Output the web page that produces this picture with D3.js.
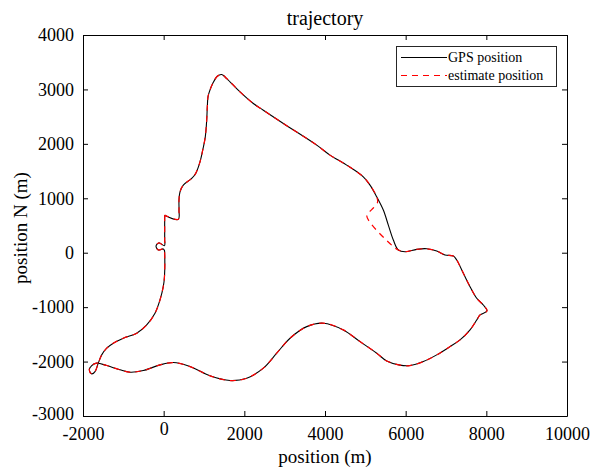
<!DOCTYPE html>
<html>
<head>
<meta charset="utf-8">
<script src="https://cdn.jsdelivr.net/npm/d3@7"></script>
<style>
  body { margin: 0; background: #fff; }
  svg text { font-family: "Liberation Serif", "Times New Roman", serif; fill: #000; }
</style>
</head>
<body>
<svg id="chart" width="602" height="469"></svg>
<script>
// GPS track (m)
var gpsX = [25, 25, 25, 20, -120, -190, -130, -10, 20, 25, 20, -10, -91, -215, -421, -669, -1001, -1249, -1412, -1536,
  -1621, -1702, -1784, -1844, -1784, -1660, -1412, -1083, -835, -505, -91, 239, 653, 1149, 1645, 2059, 2471, 2803,
  3133, 3547, 3958, 4454, 4868, 5282, 5530, 5860, 6108, 6438, 6770, 7100, 7348, 7596, 7762, 7844, 8017, 7925, 7762,
  7596, 7430, 7266, 7182, 6976, 6770, 6522, 6274, 5984, 5818, 5694, 5570, 5446, 5282, 5116, 4950, 4538, 4124, 3795,
  2967, 2471, 2223, 1893, 1563, 1439, 1330, 1216, 1132, 1099, 1082, 1067, 1032, 968, 901, 794, 695, 487, 405, 380,
  380, 363, 25];
var gpsY = [690, 480, 240, 130, 180, 120, 50, 70, 40, -10, -440, -624, -868, -1112, -1327, -1479, -1571, -1662, -1754, -1877,
  -2029, -2184, -2226, -2152, -2073, -2029, -2073, -2152, -2195, -2165, -2061, -2018, -2092, -2262, -2349, -2305, -2121, -1846,
  -1571, -1358, -1295, -1418, -1633, -1846, -1990, -2066, -2073, -2000, -1877, -1725, -1602, -1418, -1235, -1143, -1070, -960, -837,
  -624, -378, -134, -61, -42, 31, 73, 62, 18, 50, 233, 508, 784, 1028, 1242, 1395, 1609, 1793, 1976,
  2374, 2618, 2741, 2954, 3200, 3273, 3242, 3108, 2954, 2862, 2679, 2435, 2128, 1884, 1670, 1457, 1365, 1242, 1119, 967,
  784, 613, 690];

// estimated track, cuts the corner near (5000, 700)
var estX = [25, 25, 25, 20, -120, -190, -130, -10, 20, 25, 20, -10, -91, -215, -421, -669, -1001, -1249, -1412, -1536,
  -1621, -1702, -1784, -1844, -1784, -1660, -1412, -1083, -835, -505, -91, 239, 653, 1149, 1645, 2059, 2471, 2803,
  3133, 3547, 3958, 4454, 4868, 5282, 5530, 5860, 6108, 6438, 6770, 7100, 7348, 7596, 7762, 7844, 8017, 7925, 7762,
  7596, 7430, 7266, 7182, 6976, 6770, 6522, 6274, 5984, 5818, 5669, 5035, 5158, 5300, 5282, 5116, 4950, 4538, 4124, 3795,
  2967, 2471, 2223, 1893, 1563, 1439, 1330, 1216, 1132, 1099, 1082, 1067, 1032, 968, 901, 794, 695, 487, 405, 380,
  380, 363, 25];
var estY = [690, 480, 240, 130, 180, 120, 50, 70, 40, -10, -440, -624, -868, -1112, -1327, -1479, -1571, -1662, -1754, -1877,
  -2029, -2184, -2226, -2152, -2073, -2029, -2073, -2152, -2195, -2165, -2061, -2018, -2092, -2262, -2349, -2305, -2121, -1846,
  -1571, -1358, -1295, -1418, -1633, -1846, -1990, -2066, -2073, -2000, -1877, -1725, -1602, -1418, -1235, -1143, -1070, -960, -837,
  -624, -378, -134, -61, -42, 31, 73, 62, 18, 50, 128, 679, 790, 920, 1028, 1242, 1395, 1609, 1793, 1976,
  2374, 2618, 2741, 2954, 3200, 3273, 3242, 3108, 2954, 2862, 2679, 2435, 2128, 1884, 1670, 1457, 1365, 1242, 1119, 967,
  784, 613, 690];

var xTicks = [-2000, 0, 2000, 4000, 6000, 8000, 10000];
var yTicks = [-3000, -2000, -1000, 0, 1000, 2000, 3000, 4000];
var seriesNames = ["GPS position", "estimate position"];

var mLeft = 83, mTop = 35, mRight = 567, mBottom = 416;

var svg = d3.select("#chart");

var x = d3.scaleLinear().domain([-2000, 10000]).range([mLeft, mRight]);
var y = d3.scaleLinear().domain([-3000, 4000]).range([mBottom, mTop]);

var fmt = function(d) { return String(d); };

// axes, ticks pointing inwards like matlab
var xb = svg.append("g").attr("transform", "translate(0," + mBottom + ")")
    .call(d3.axisBottom(x).tickValues(xTicks).tickSizeInner(-5).tickSizeOuter(0).tickPadding(11).tickFormat(fmt));
var xt = svg.append("g").attr("transform", "translate(0," + mTop + ")")
    .call(d3.axisTop(x).tickValues(xTicks).tickSizeInner(-5).tickSizeOuter(0).tickFormat(""));
var yl = svg.append("g").attr("transform", "translate(" + mLeft + ",0)")
    .call(d3.axisLeft(y).tickValues(yTicks).tickSizeInner(-5).tickSizeOuter(0).tickPadding(9).tickFormat(fmt));
var yr = svg.append("g").attr("transform", "translate(" + mRight + ",0)")
    .call(d3.axisRight(y).tickValues(yTicks).tickSizeInner(-5).tickSizeOuter(0).tickFormat(""));

svg.selectAll(".domain").attr("stroke", "#000").attr("stroke-width", 1);
svg.selectAll(".tick line").attr("stroke", "#000");
svg.selectAll(".tick text").style("font-family", "Liberation Serif").style("font-size", "18px").attr("fill", "#000");
// the zero label sits a little higher in the original
xb.selectAll(".tick text").filter(function(d) { return d === 0; }).attr("dy", "0.45em");
yl.selectAll(".tick text").filter(function(d) { return d === -3000; }).attr("dy", "0.2em");

var line = d3.line()
    .x(function(d) { return x(d[0]); })
    .y(function(d) { return y(d[1]); })
    .curve(d3.curveCatmullRom.alpha(0.5));

var gps = d3.zip(gpsX, gpsY);
var est = d3.zip(estX, estY);

svg.append("path")
    .datum(gps)
    .attr("d", line)
    .attr("fill", "none")
    .attr("stroke", "#000")
    .attr("stroke-width", 1.1);

svg.append("path")
    .datum(est)
    .attr("d", line)
    .attr("fill", "none")
    .attr("stroke", "#ff0000")
    .attr("stroke-width", 1.2)
    .attr("stroke-dasharray", "6,5");

// legend
var lg = svg.append("g");
lg.append("rect")
    .attr("x", 396.5).attr("y", 46.5).attr("width", 160).attr("height", 40)
    .attr("fill", "#fff").attr("stroke", "#262626").attr("stroke-width", 1);
lg.append("line").attr("x1", 401).attr("x2", 447).attr("y1", 57.5).attr("y2", 57.5)
    .attr("stroke", "#000").attr("stroke-width", 1);
lg.append("line").attr("x1", 401).attr("x2", 447).attr("y1", 75.5).attr("y2", 75.5)
    .attr("stroke", "#ff0000").attr("stroke-width", 1).attr("stroke-dasharray", "6,5");
lg.selectAll("text.leg")
    .data(seriesNames)
    .join("text")
    .classed("leg", true)
    .attr("x", 448)
    .attr("y", function(d, i) { return 62 + i * 18; })
    .style("font-size", "14px")
    .text(function(d) { return d; });

// titles
svg.append("text")
    .attr("x", (mLeft + mRight) / 2).attr("y", 25)
    .attr("text-anchor", "middle")
    .style("font-size", "20px")
    .text("trajectory");

svg.append("text")
    .attr("x", (mLeft + mRight) / 2).attr("y", 463)
    .attr("text-anchor", "middle")
    .style("font-size", "19px")
    .text("position (m)");

svg.append("text")
    .attr("transform", "translate(27,228) rotate(-90)")
    .attr("text-anchor", "middle")
    .style("font-size", "19px")
    .text("position N (m)");
</script>
</body>
</html>
